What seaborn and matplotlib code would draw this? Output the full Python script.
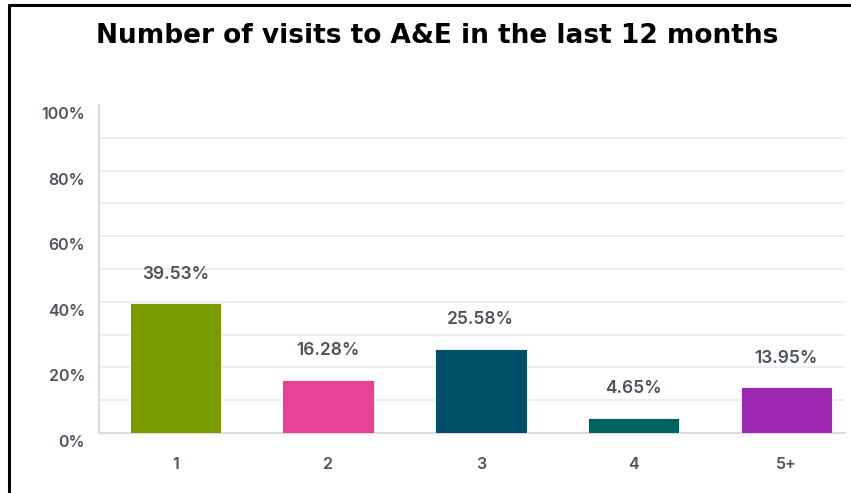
import matplotlib
matplotlib.use("Agg")
import matplotlib.pyplot as plt
from matplotlib.lines import Line2D
from matplotlib.transforms import ScaledTranslation
import seaborn as sns
import pandas as pd

# Survey results: share of respondents by number of A&E visits
categories = ["1", "2", "3", "4", "5+"]
percentages = [39.53, 16.28, 25.58, 4.65, 13.95]
bar_colors = ["#7a9a01", "#e84296", "#00506b", "#006360", "#9c27b0"]
y_ticks = [0, 20, 40, 60, 80, 100]
y_tick_labels = ["0%", "20%", "40%", "60%", "80%", "100%"]
title = "Number of visits to A&E in the last 12 months"

df = pd.DataFrame({"visits": categories, "pct": percentages})

sns.set_theme(style="white")
plt.rcParams["font.family"] = ["Inter", "DejaVu Sans"]

W, H = 851, 493
fig = plt.figure(figsize=(W / 100, H / 100), dpi=100)
ax = fig.add_axes([99 / W, 1 - 433 / H, (845 - 99) / W, (433 - 105) / H])

sns.barplot(data=df, x="visits", y="pct", hue="visits", palette=bar_colors,
            legend=False, width=0.6, saturation=1, ax=ax, zorder=3,
            edgecolor="white", linewidth=0.6)

ax.set_ylim(0, 100)
ax.set_xlim(-0.5, 4.384)

# light gridlines every 10%
for v in range(10, 100, 10):
    ax.axhline(v, color="#ebebeb", lw=1.2, zorder=1)

ax.set_yticks(y_ticks)
ax.set_yticklabels(y_tick_labels)
ax.tick_params(axis="y", length=0, pad=10, labelsize=11.5, labelcolor="#4d535c")
ax.tick_params(axis="x", length=0, pad=17, labelsize=11.5, labelcolor="#4d535c")
shift = ScaledTranslation(0, -8 / 100, fig.dpi_scale_trans)
for lbl in ax.get_yticklabels():
    lbl.set_fontweight("semibold")
    lbl.set_transform(lbl.get_transform() + shift)
for lbl in ax.get_xticklabels():
    lbl.set_fontweight("semibold")

ax.set_xlabel("")
ax.set_ylabel("")
for side in ["top", "right"]:
    ax.spines[side].set_visible(False)
ax.spines["left"].set_color("#dcdcdc")
ax.spines["bottom"].set_color("#dcdcdc")
ax.spines["left"].set_linewidth(1.5)
ax.spines["bottom"].set_linewidth(1.5)

# value labels above the bars
for i, v in enumerate(percentages):
    ax.annotate(f"{v:.2f}%", xy=(i, v), xytext=(0, 21), textcoords="offset points",
                ha="center", va="center", fontsize=12.5, fontweight="semibold",
                color="#4d535c")

fig.text(437 / W, 1 - 36 / H, title, ha="center", va="center",
         fontsize=19, fontweight="bold", color="black",
         family=["Liberation Sans Narrow", "DejaVu Sans"])

# frame lines along the top and left edge
fig.add_artist(Line2D([8.5 / W, 1], [1 - 5 / H, 1 - 5 / H], color="black", lw=2.2))
fig.add_artist(Line2D([8.5 / W, 8.5 / W], [0, 1 - 5 / H], color="black", lw=2.2))

fig.savefig("out.png", dpi=100, facecolor="white")
